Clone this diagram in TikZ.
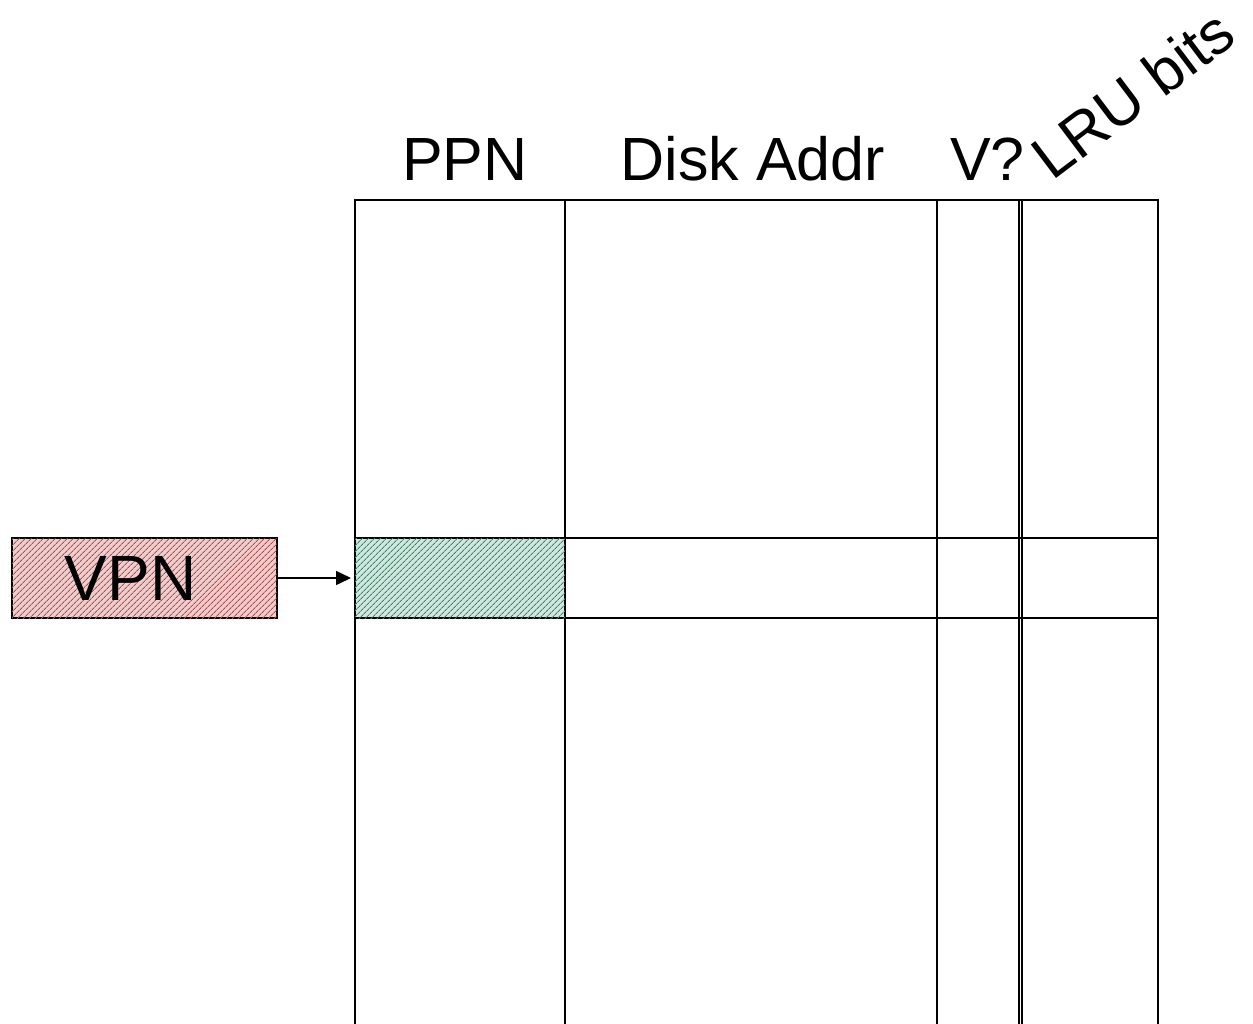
\documentclass[tikz,border=0pt]{standalone}
\usepackage{fontspec}
\setmainfont{Liberation Sans}
\usetikzlibrary{patterns.meta,arrows.meta}
\begin{document}
\begin{tikzpicture}[x=1pt,y=-1pt,
  grid/.style={line width=2pt,black},
  hdr/.style={font=\fontsize{61}{70}\selectfont,inner sep=0pt,anchor=base},
  vpnbox/.style={draw=black,line width=1.5pt,minimum width=265pt,minimum height=80pt,inner sep=0pt,
    fill={rgb,255:red,240;green,205;blue,205},
    postaction={pattern={Lines[angle=45,distance=4pt,line width=1pt]},pattern color={rgb,255:red,175;green,75;blue,75}}},
  cellbox/.style={draw=black,line width=2pt,minimum width=210pt,minimum height=80pt,inner sep=0pt,
    fill={rgb,255:red,205;green,232;blue,222},
    postaction={pattern={Lines[angle=45,distance=4pt,line width=1pt]},pattern color={rgb,255:red,70;green,125;blue,105}}},
  conn/.style={line width=1.5pt,-{Triangle[length=15pt,width=14pt]}}
]
\useasboundingbox (0,0) rectangle (1253,1023);
% table frame
\draw[grid] (355,1030) -- (355,200) -- (1158,200) -- (1158,1030);
\draw[grid] (565,200) -- (565,1030);
\draw[grid] (937,200) -- (937,1030);
\draw[line width=1.5pt] (1019,200) -- (1019,1030);
\draw[line width=1.5pt] (1022,200) -- (1022,1030);
\draw[grid] (355,538) -- (1158,538);
\draw[grid] (355,618) -- (1158,618);
% hatched cell
\node[cellbox] (cell) at (460,578) {};
% VPN box
\node[vpnbox,font=\fontsize{64}{70}\selectfont] (vpn) at (144.5,578) {VPN\hspace*{28pt}};
\draw[conn] (vpn.east) -- ([xshift=-3pt]cell.west);
% headers
\node[hdr] (ppn) at (465,180) {PPN};
\node[hdr] (disk) at (753,180) {Disk Addr};
\node[hdr,anchor=base west] (valid) at (950,180) {V?};
\node[hdr,anchor=base west,rotate=37] (lru) at (1052,182) {LRU bits};
\end{tikzpicture}
\end{document}
